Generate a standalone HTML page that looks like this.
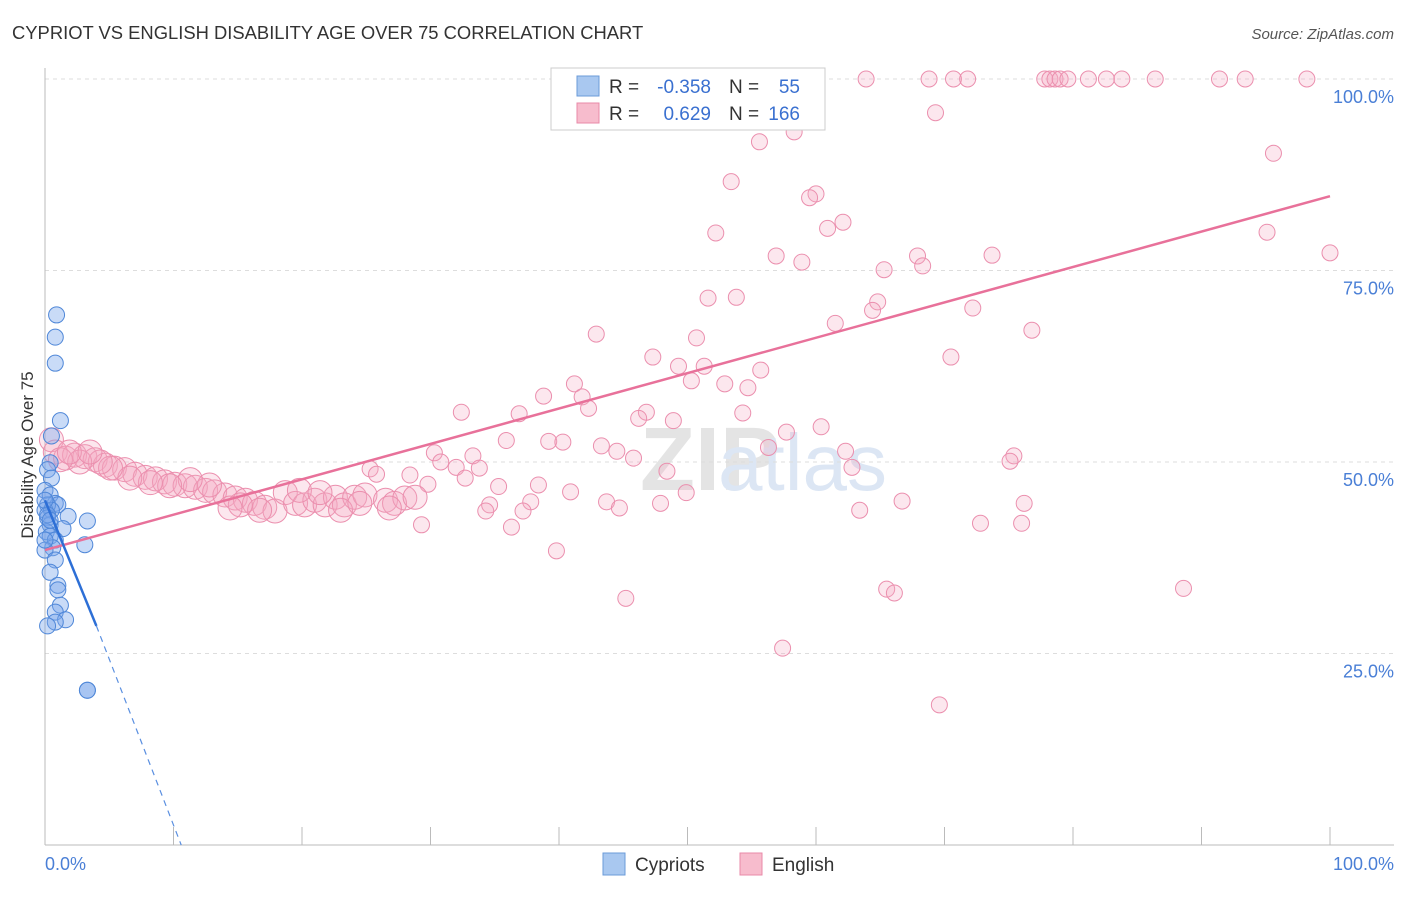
<!DOCTYPE html>
<html><head><meta charset="utf-8"><style>
body{margin:0;background:#fff;font-family:"Liberation Sans",sans-serif;}
svg text{font-family:"Liberation Sans",sans-serif;}
</style></head><body>
<svg width="1406" height="892">
<text x="12" y="39" font-size="18.4" fill="#333">CYPRIOT VS ENGLISH DISABILITY AGE OVER 75 CORRELATION CHART</text>
<text x="1394" y="39" font-size="15" fill="#555" text-anchor="end" font-style="italic">Source: ZipAtlas.com</text>
<text x="33" y="455" font-size="17" fill="#333" text-anchor="middle" transform="rotate(-90 33 455)">Disability Age Over 75</text>
<text x="640" y="490" font-size="90" fill="#e4e4e4" font-weight="bold">ZIP</text>
<text x="718" y="490" font-size="80" fill="#dce6f4">atlas</text>
<g id="grid"></g><g id="axes"></g><g id="pts"></g><g id="trend"></g>
<g>
<rect x="551" y="68" width="274" height="62" fill="#fff" stroke="#ccc"/>
<rect x="577" y="76" width="22" height="20" fill="#a9c8f0" stroke="#6b9bd9"/>
<rect x="577" y="103" width="22" height="20" fill="#f7bccd" stroke="#e88aa8"/>
<text x="609" y="93" font-size="19" fill="#333">R =</text>
<text x="711" y="93" font-size="19" fill="#3a70d0" text-anchor="end">-0.358</text>
<text x="729" y="93" font-size="19" fill="#333">N =</text>
<text x="800" y="93" font-size="19" fill="#3a70d0" text-anchor="end">55</text>
<text x="609" y="120" font-size="19" fill="#333">R =</text>
<text x="711" y="120" font-size="19" fill="#3a70d0" text-anchor="end">0.629</text>
<text x="729" y="120" font-size="19" fill="#333">N =</text>
<text x="800" y="120" font-size="19" fill="#3a70d0" text-anchor="end">166</text>
</g>
<g>
<rect x="603" y="853" width="22" height="22" fill="#a9c8f0" stroke="#6b9bd9"/>
<text x="635" y="871" font-size="19" fill="#333">Cypriots</text>
<rect x="740" y="853" width="22" height="22" fill="#f7bccd" stroke="#e88aa8"/>
<text x="772" y="871" font-size="19" fill="#333">English</text>
</g>
</svg>
<script>
const yTicks=[25,50,75,100];
const yTickLabels=["25.0%","50.0%","75.0%","100.0%"];
const xTicks=[0,10,20,30,40,50,60,70,80,90,100];
const cypX=[0.9,0.8,0.8,1.2,0.5,0.4,0.2,0.5,0,0.4,0.8,1.0,0.2,0,0.5,0.2,1.8,3.3,0.4,0.1,1.4,0.4,0.8,0.6,3.1,0,0.8,0.4,1.0,1.0,1.2,0.8,1.6,0.8,0.2,3.3,3.3,0,0.2,0.4,0];
const cypY=[69.2,66.3,62.9,55.4,53.4,49.9,49.0,47.9,46.3,45.7,44.6,44.4,44.4,43.7,43.7,42.7,42.9,42.3,41.8,40.9,41.3,40.3,39.8,38.8,39.2,38.5,37.2,35.6,33.9,33.3,31.3,30.4,29.4,29.1,28.6,20.2,20.2,45.0,43.1,42.4,39.8];
const engX=[63.9,68.8,70.7,71.8,77.8,78.2,78.6,79.0,79.6,81.2,82.6,83.8,86.4,91.4,93.4,98.2,69.3,55.6,58.3,95.6,53.4,60.0,59.5,62.1,60.9,52.2,95.1,100,56.9,58.9,67.9,68.3,73.7,65.3,51.6,53.8,64.8,64.4,72.2,50.7,61.5,76.8,42.9,47.3,49.3,51.3,70.5,55.7,41.2,50.3,52.9,54.7,38.8,41.8,42.3,32.4,36.9,46.8,46.2,48.9,54.3,56.3,57.7,60.4,35.9,39.2,40.3,43.3,44.5,45.8,30.3,33.3,62.3,62.8,75.4,75.1,48.4,30.8,32.0,33.8,25.3,25.8,28.4,32.7,29.8,35.3,38.4,40.9,49.9,43.7,44.7,47.9,66.7,76.2,34.6,37.8,37.2,34.3,63.4,29.3,36.3,72.8,76.0,39.8,45.2,65.5,66.1,88.6,57.4,69.6,
0.5,0.8,1.6,2.3,3.1,3.9,4.7,5.4,6.2,7.0,7.8,8.6,9.3,10.1,10.9,11.7,12.5,13.2,14.0,14.8,15.6,16.3,17.1,17.9,18.7,19.5,20.2,21.0,21.8,22.6,23.3,24.1,24.9,26.5,27.2,28.0,28.8,26.8,19.8,21.4,23.0,24.5,16.7,15.2,14.4,12.8,11.3,9.7,8.2,6.6,5.1,4.3,2.7,1.2,1.9,3.5];
const engY=[100,100,100,100,100,100,100,100,100,100,100,100,100,100,100,100,95.6,91.8,93.1,90.3,86.6,85.0,84.5,81.3,80.5,79.9,80.0,77.3,76.9,76.1,76.9,75.6,77.0,75.1,71.4,71.5,70.9,69.8,70.1,66.2,68.1,67.2,66.7,63.7,62.5,62.5,63.7,62.0,60.2,60.6,60.2,59.7,58.6,58.5,57.0,56.5,56.3,56.5,55.7,55.4,56.4,51.9,53.9,54.6,52.8,52.7,52.6,52.1,51.4,50.5,51.2,50.8,51.4,49.3,50.8,50.1,48.8,50.0,49.3,49.2,49.1,48.4,48.3,47.9,47.1,46.8,47.0,46.1,46.0,44.8,44.0,44.6,44.9,44.6,44.4,44.8,43.6,43.6,43.7,41.8,41.5,42.0,42.0,38.4,32.2,33.4,32.9,33.5,25.7,18.3,
52.9,51.3,50.5,50.9,50.7,50.3,49.6,49.2,49.0,48.4,48.0,47.8,47.4,47.1,46.9,46.7,46.3,46.1,45.7,45.3,45.0,44.6,44.1,43.6,46.0,44.6,44.4,45.0,44.4,45.4,44.4,45.4,45.7,45.0,44.6,45.3,45.4,44.0,46.3,46.0,43.7,44.6,43.7,44.4,44.0,47.0,47.7,46.9,47.3,47.9,49.2,50.0,50.0,50.3,51.3,51.3];
const engTrend=[38.5,84.7];
const cypTrend=[45.0,28.6,3.3];
const NS="http://www.w3.org/2000/svg";
const X0=45,X1=1330,Y0=845,Y100=79;
const sx=v=>X0+(X1-X0)*v/100;
const sy=v=>Y0-(Y0-Y100)*v/100;
function mk(tag,attrs,parent){const e=document.createElementNS(NS,tag);for(const k in attrs)e.setAttribute(k,attrs[k]);document.getElementById(parent).appendChild(e);return e;}
yTicks.forEach((t,i)=>{
 const l=mk('line',{x1:X0,x2:1394,y1:sy(t),y2:sy(t),stroke:'#ddd','stroke-dasharray':'4,4'},'grid');
 
 
 const tx=mk('text',{x:1394,y:sy(t)+24,'font-size':18,fill:'#4a7fd6','text-anchor':'end'},'grid');
 tx.textContent=yTickLabels[i];
 
 
});
const ax=mk('line',{x1:X0,x2:1394,y1:Y0,y2:Y0,stroke:'#bbb'},'axes');


const ay=mk('line',{x1:X0,x2:X0,y1:68,y2:Y0,stroke:'#bbb'},'axes');


xTicks.forEach(t=>{const l=mk('line',{x1:sx(t),x2:sx(t),y1:Y0,y2:Y0-18,stroke:'#bbb'},'axes');
 
 });
const xl=mk('text',{x:45,y:870,'font-size':18,fill:'#4a7fd6'},'axes');xl.textContent='0.0%';


const xr=mk('text',{x:1394,y:870,'font-size':18,fill:'#4a7fd6','text-anchor':'end'},'axes');xr.textContent='100.0%';


engX.forEach((v,i)=>{const big=i>=110;const c=mk('circle',{cx:sx(v),cy:sy(engY[i]),r:big?12:8,fill:'rgba(246,170,195,0.28)',stroke:'#eb8fae','stroke-width':1},'pts');
 
 });
cypX.forEach((v,i)=>{const c=mk('circle',{cx:sx(v),cy:sy(cypY[i]),r:8,fill:'rgba(120,165,235,0.4)',stroke:'#4f87d8','stroke-width':1},'pts');
 
 });
const et=mk('line',{x1:sx(0),y1:sy(engTrend[0]),x2:sx(100),y2:sy(engTrend[1]),stroke:'#e8719a','stroke-width':2.5},'trend');


const ct=mk('line',{x1:sx(0),y1:sy(cypTrend[0]),x2:sx(4),y2:sy(cypTrend[1]),stroke:'#2d6fd6','stroke-width':2.5},'trend');


const cd=mk('line',{x1:sx(4),y1:sy(cypTrend[1]),x2:sx(10.6),y2:sy(0),stroke:'#5a8fe0','stroke-width':1.2,'stroke-dasharray':'6,5'},'trend');


</script>
</body></html>
